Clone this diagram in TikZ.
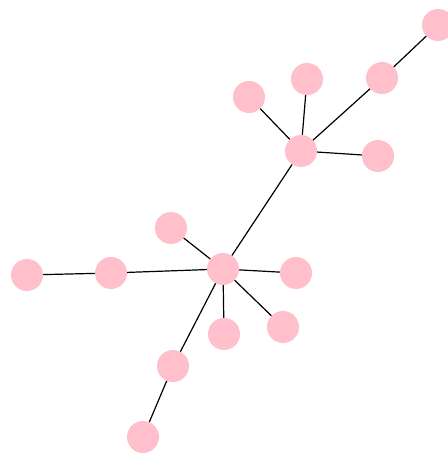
\documentclass[tikz,border=0pt]{standalone}
\definecolor{nodepink}{HTML}{FFC0CB}
\begin{document}
\begin{tikzpicture}[x=1pt,y=-1pt,
  vtx/.style={circle,fill=nodepink,draw=none,minimum size=32pt,inner sep=0pt},
  edge/.style={draw=black,line width=1.2pt}]
\useasboundingbox (0,0) rectangle (447,454);
\node[vtx] (A) at (438,25) {};
\node[vtx] (B) at (382,78) {};
\node[vtx] (C) at (307,79) {};
\node[vtx] (D) at (249,97) {};
\node[vtx] (E) at (301,151) {};
\node[vtx] (F) at (378,156) {};
\node[vtx] (G) at (171,228) {};
\node[vtx] (H) at (223,269) {};
\node[vtx] (I) at (27,275) {};
\node[vtx] (J) at (111,273) {};
\node[vtx] (K) at (296,273) {};
\node[vtx] (L) at (283,327) {};
\node[vtx] (M) at (224,334) {};
\node[vtx] (N) at (173,366) {};
\node[vtx] (O) at (143,437) {};
\foreach \a/\b in {A/B,B/E,C/E,D/E,F/E,E/H,G/H,J/H,I/J,K/H,L/H,M/H,N/H,N/O}
  \draw[edge] (\a) -- (\b);
\end{tikzpicture}
\end{document}
